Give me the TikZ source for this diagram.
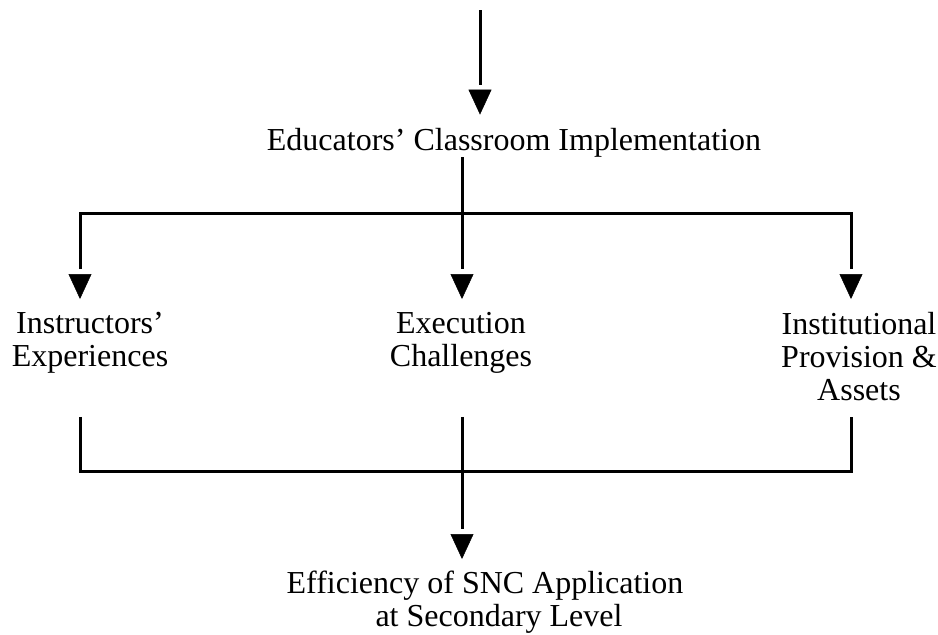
\documentclass[tikz,border=0pt]{standalone}
\usepackage{fontspec}
\setmainfont{Liberation Serif}
\usetikzlibrary{arrows.meta}
\begin{document}
\begin{tikzpicture}[x=1pt,y=-1pt,
  link/.style={line width=3pt,line join=miter,line cap=butt},
  head/.style={Triangle[width=23pt,length=25pt,color=black]},
  % arrow whose head stands a few points clear of the shaft
  arr/.style={link,shorten >=#1+30pt,
    preaction={draw=white,line width=0.5pt,shorten >=#1,-{Triangle[width=23pt,length=25pt,color=black]}}},
  arrboth/.style={link,shorten >=#1+30pt,shorten <=#1+30pt,
    preaction={draw=white,line width=0.5pt,shorten >=#1,shorten <=#1,
      {Triangle[width=23pt,length=25pt,color=black]}-{Triangle[width=23pt,length=25pt,color=black]}}},
  label/.style={inner sep=0pt,align=center,font=\fontsize{32}{33}\selectfont}]
\useasboundingbox (0,0) rectangle (938,635);

% labels
\node[label,anchor=base] (edu) at (514,150) {Educators’ Classroom Implementation};
\node[label,anchor=north] (instr) at (90,312) {Instructors’\\Experiences};
\node[label,anchor=north] (exec) at (461,312) {Execution\\Challenges};
\node[label,anchor=north] (inst) at (859,312) {Institutional\\Provision \&\\Assets};
\node[label,anchor=north] (eff) at (485,571) {Efficiency of SNC Application\\\hspace*{28pt}at Secondary Level};

% branch points
\coordinate (src) at (480,10);
\coordinate (split) at (462,213);
\coordinate (tL) at (80,213);
\coordinate (tR) at (851,213);
\coordinate (join) at (462,471);
\coordinate (bL) at (80,471);
\coordinate (bR) at (851,471);

% incoming arrow
\draw[arr=13pt] (src) -- (src |- edu.north);

% fan-out
\draw[link] (split |- edu.south) -- (split);
\draw[arrboth=13pt] (tL |- instr.north) -- (tL) -- (tR) -- (tR |- inst.north);
\draw[arr=13pt] (split) -- (split |- exec.north);

% fan-in
\draw[link,shorten <=16pt,shorten >=16pt] (bL |- inst.south) -- (bL) -- (bR) -- (bR |- inst.south);
\draw[link,shorten <=16pt] (join |- inst.south) -- (join);
\draw[arr=12pt] (join) -- (join |- eff.north);
\end{tikzpicture}
\end{document}
